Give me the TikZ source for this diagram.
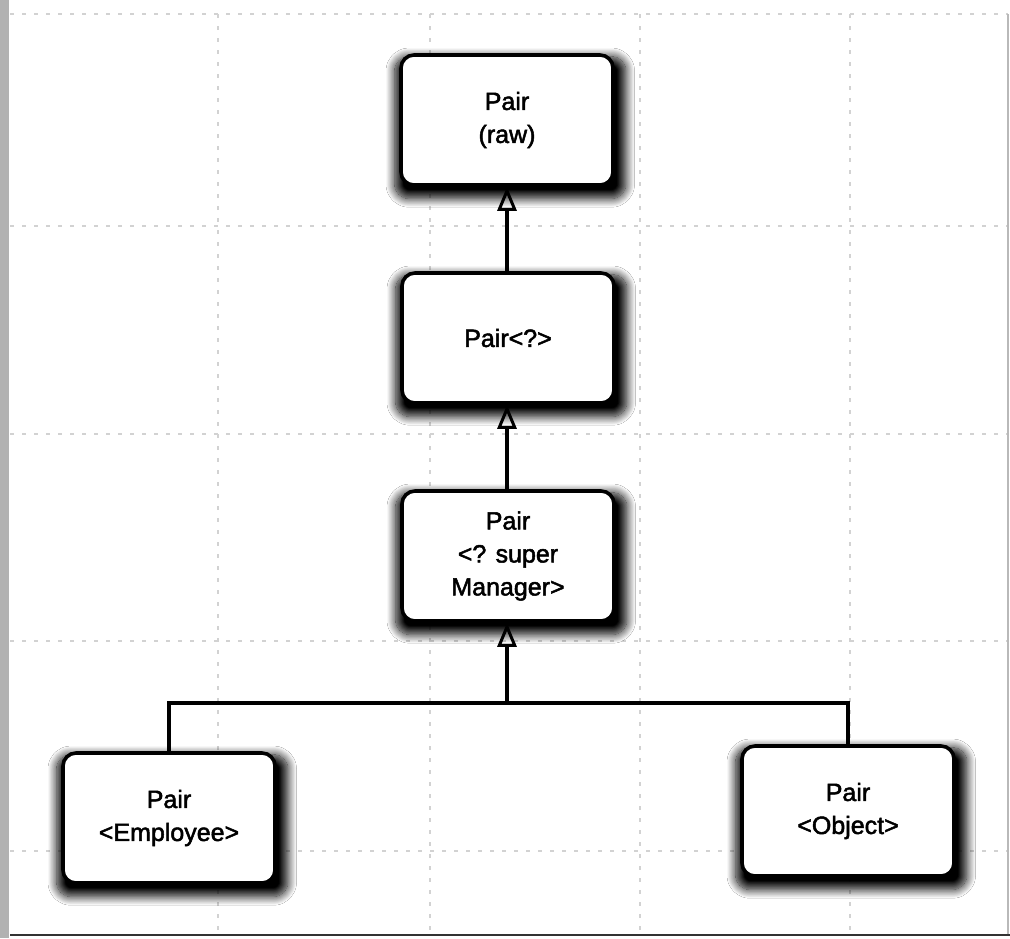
\documentclass[tikz,border=0pt]{standalone}
\usepackage{fontspec}
\setmainfont{Liberation Sans}
\newfontfamily\boxfont{Liberation Sans}[FakeBold=2]
\usetikzlibrary{arrows.meta,shadows.blur}
\tikzset{
  classbox/.style={draw=black, line width=3.6pt, fill=white, rounded corners=13pt,
    minimum width=212pt, minimum height=130pt, align=center, inner sep=0pt,
    font=\boxfont\fontsize{25}{33}\selectfont,
    blur shadow={shadow xshift=3pt, shadow yshift=-7pt, shadow blur radius=8pt,
      shadow blur steps=14, shadow opacity=100, shadow scale=1.09}},
  gridline/.style={draw=gray!35, line width=1.3pt, dash pattern=on 4pt off 8pt},
  conn/.style={draw=black, line width=3.2pt},
  inherit/.style={conn, -{Triangle[open, width=19pt, length=24pt, line width=3pt]}}
}
\begin{document}
\begin{tikzpicture}[x=1pt, y=-1pt]
\useasboundingbox (0,0) rectangle (1010,938);
\fill[white] (0,0) rectangle (1010,938);
% scan background: grid, edges
\foreach \gx in {218,430,640,850} {\draw[gridline] (\gx,14) -- (\gx,935);}
\foreach \gy in {14,226,434,641,851} {\draw[gridline] (10,\gy) -- (1008,\gy);}
\fill[gray!60] (0,0) rectangle (9,938);
\draw[gray!55, line width=1.3pt] (1008,14) -- (1008,935);
\draw[black!80, line width=2.2pt] (10,935) -- (1010,935);
% nodes
\node[classbox] (raw) at (507,120) {Pair\\(raw)};
\node[classbox] (wild) at (508,338) {Pair<?>};
\node[classbox] (sup) at (508,556) {Pair\\<? super\\Manager>};
\node[classbox] (emp) at (169,818) {Pair\\<Employee>};
\node[classbox] (obj) at (848,811) {Pair\\<Object>};
\coordinate (join) at (507,703);
% connectors
\draw[inherit] (wild.north -| join) -- (raw.south -| join);
\draw[inherit] (sup.north -| join) -- (wild.south -| join);
\draw[inherit] (join) -- (sup.south -| join);
\draw[conn] (emp.north) |- (join) -| (obj.north);
\end{tikzpicture}
\end{document}
